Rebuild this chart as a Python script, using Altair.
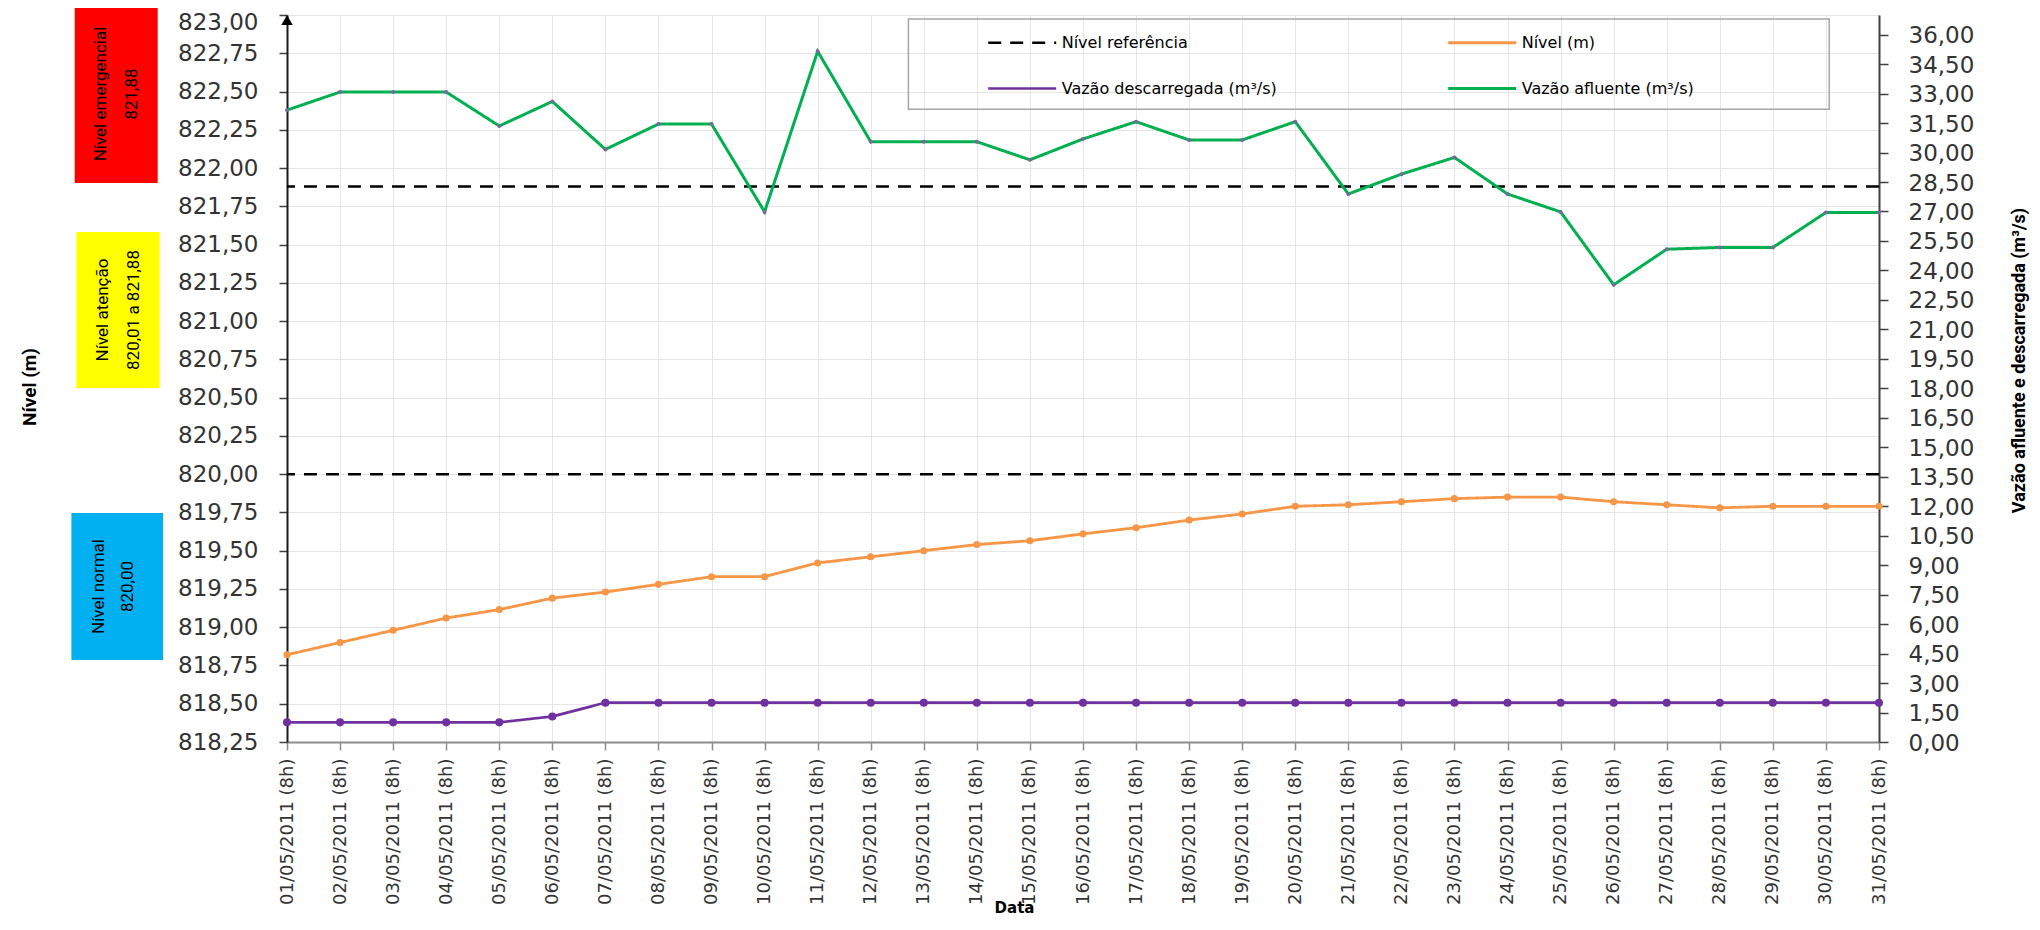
import altair as alt
import pandas as pd

# ---------------- data ----------------
datas = [
    "01/05/2011 (8h)", "02/05/2011 (8h)", "03/05/2011 (8h)", "04/05/2011 (8h)",
    "05/05/2011 (8h)", "06/05/2011 (8h)", "07/05/2011 (8h)", "08/05/2011 (8h)",
    "09/05/2011 (8h)", "10/05/2011 (8h)", "11/05/2011 (8h)", "12/05/2011 (8h)",
    "13/05/2011 (8h)", "14/05/2011 (8h)", "15/05/2011 (8h)", "16/05/2011 (8h)",
    "17/05/2011 (8h)", "18/05/2011 (8h)", "19/05/2011 (8h)", "20/05/2011 (8h)",
    "21/05/2011 (8h)", "22/05/2011 (8h)", "23/05/2011 (8h)", "24/05/2011 (8h)",
    "25/05/2011 (8h)", "26/05/2011 (8h)", "27/05/2011 (8h)", "28/05/2011 (8h)",
    "29/05/2011 (8h)", "30/05/2011 (8h)", "31/05/2011 (8h)",
]
nivel_m = [
    818.82, 818.90, 818.98, 819.06, 819.115, 819.19, 819.23, 819.28, 819.33, 819.33,
    819.42, 819.46, 819.50, 819.54, 819.565, 819.61, 819.65, 819.70, 819.74, 819.79,
    819.80, 819.82, 819.84, 819.85, 819.85, 819.82, 819.80, 819.78, 819.79, 819.79, 819.79,
]
vazao_descarregada = [
    1.0, 1.0, 1.0, 1.0, 1.0, 1.3, 2.0, 2.0, 2.0, 2.0, 2.0, 2.0, 2.0, 2.0, 2.0, 2.0,
    2.0, 2.0, 2.0, 2.0, 2.0, 2.0, 2.0, 2.0, 2.0, 2.0, 2.0, 2.0, 2.0, 2.0, 2.0,
]
vazao_afluente = [
    32.16, 33.08, 33.08, 33.08, 31.35, 32.6, 30.16, 31.45, 31.45, 26.98,
    35.15, 30.55, 30.55, 30.55, 29.63, 30.69, 31.57, 30.64, 30.64, 31.57,
    27.89, 28.90, 29.75, 27.89, 26.98, 23.27, 25.08, 25.17, 25.17, 26.95, 26.95,
]
nivel_referencia = [821.88, 820.00]
# legend order (column by column): referência, descarregada | nível, afluente
series = ["Nível referência", "Vazão descarregada (m³/s)", "Nível (m)", "Vazão afluente (m³/s)"]
ticks_nivel = [818.25, 818.50, 818.75, 819.00, 819.25, 819.50, 819.75, 820.00, 820.25, 820.50,
               820.75, 821.00, 821.25, 821.50, 821.75, 822.00, 822.25, 822.50, 822.75, 823.00]
ticks_vazao = [0.0, 1.5, 3.0, 4.5, 6.0, 7.5, 9.0, 10.5, 12.0, 13.5, 15.0, 16.5, 18.0, 19.5,
               21.0, 22.5, 24.0, 25.5, 27.0, 28.5, 30.0, 31.5, 33.0, 34.5, 36.0]
faixas = [
    ("Nível emergencial", "821,88"),
    ("Nível atenção", "820,01 a 821,88"),
    ("Nível normal", "820,00"),
]
titulo_nivel = "Nível (m)"
titulo_vazao = "Vazão afluente e descarregada (m³/s)"
titulo_data = "Data"

# ---------------- styles ----------------
cores = ["#000000", "#7030A0", "#F79646", "#00B050"]
tracos = [[13, 9], [1, 0], [1, 0], [1, 0]]
larguras = [2.5, 3, 3, 6.5]
NARROW = "Roboto"
WIDE = "DejaVu Sans"
GRID = "#E6E6E6"
fmt = "replace(format(datum.value, '.2f'), '.', ',')"

df_nivel = pd.DataFrame({"data": datas, "valor": nivel_m, "serie": "Nível (m)"})
df_ref = pd.DataFrame({"valor": nivel_referencia, "serie": "Nível referência"})
df_vazao = pd.DataFrame({
    "data": datas + datas,
    "vazao": vazao_descarregada + vazao_afluente,
    "serie": ["Vazão descarregada (m³/s)"] * len(datas) + ["Vazão afluente (m³/s)"] * len(datas),
})
one = pd.DataFrame({"k": [0]})

legend_def = alt.Legend(
    title=None, orient="none", legendX=699.7, legendY=-8, columns=2,
    symbolType="stroke", symbolSize=4624, labelFont=WIDE, labelFontSize=16,
    labelColor="#000000", labelOffset=4, rowPadding=2, columnPadding=164,
    padding=0, gridAlign="each", labelLimit=600,
)
color_enc = alt.Color("serie:N", scale=alt.Scale(domain=series, range=cores), legend=legend_def)
dash_enc = alt.StrokeDash("serie:N", scale=alt.Scale(domain=series, range=tracos), legend=legend_def)
width_enc = alt.StrokeWidth("serie:N", scale=alt.Scale(domain=series, range=larguras), legend=legend_def)

x_axis = alt.Axis(
    orient="bottom", labelAngle=270, labelFont=WIDE, labelFontSize=18, labelColor="#333333",
    labelPadding=8, tickSize=8, tickColor="#8C8C8C", tickWidth=1.5, domainColor="#8C8C8C",
    domainWidth=2, grid=True, gridColor=GRID, gridWidth=1, labelOverlap=False,
    title=titulo_data, titleFont=WIDE, titleFontSize=15, titleFontWeight="bold",
    titleColor="#000000", titleX=727, titleY=165, titleAlign="center", titleBaseline="middle",
)
x_enc = alt.X("data:N", sort=datas, scale=alt.Scale(type="point", padding=0), axis=x_axis)

y_left_scale = alt.Scale(domain=[818.25, 823.0], nice=False, zero=False)
y_left_axis = alt.Axis(
    orient="left", values=ticks_nivel, labelExpr=fmt, labelFont=WIDE, labelFontSize=23,
    labelColor="#333333", labelPadding=21, labelOverlap=False, labelFlush=False,
    labelOffset={"condition": {"test": "datum.value >= 822.99", "value": 7}, "value": 0},
    tickSize=8, tickColor="#404040", tickWidth=1.5, domainColor="#1A1A1A", domainWidth=2,
    grid=True, gridColor=GRID, gridWidth=1, title=None,
)
y_right_scale = alt.Scale(domain=[0, 37], nice=False, zero=True)
y_right_axis = alt.Axis(
    orient="right", values=ticks_vazao, labelExpr=fmt, labelFont=WIDE, labelFontSize=23,
    labelColor="#333333", labelPadding=20, labelOffset=1, labelOverlap=False, labelFlush=False,
    tickSize=9, tickColor="#404040", tickWidth=1.5, domainColor="#404040", domainWidth=2,
    grid=False,
    title=titulo_vazao, titleFont=NARROW, titleFontSize=18,
    titleFontWeight="bold", titleColor="#000000", titleAngle=270, titleX=140, titleY=345,
    titleAlign="center", titleBaseline="middle",
)
y_left = alt.Y("valor:Q", scale=y_left_scale, axis=y_left_axis)
y_right = alt.Y("vazao:Q", scale=y_right_scale, axis=y_right_axis)

# ---------------- left (nível) group ----------------
rules = alt.Chart(df_ref).mark_rule().encode(
    y=y_left, color=color_enc, strokeDash=dash_enc, strokeWidth=width_enc,
)
nivel_line = alt.Chart(df_nivel).mark_line().encode(
    x=x_enc, y=y_left, color=color_enc, strokeDash=dash_enc, strokeWidth=width_enc,
)
nivel_pts = alt.Chart(df_nivel).mark_circle(size=50, color="#F79646", opacity=1).encode(
    x=x_enc, y=y_left,
)
arrow = alt.Chart(one).mark_point(shape="triangle-up", filled=True, color="#000000",
                                  size=130, opacity=1).encode(
    x=alt.value(0), y=alt.value(5))

titulo_esq = alt.Chart(one).mark_text(
    angle=270, font=NARROW, fontSize=19, fontWeight="bold", align="center",
    baseline="middle", color="#000000").encode(
    x=alt.value(-257), y=alt.value(372), text=alt.value(titulo_nivel))

legend_box = alt.Chart(one).mark_rect(fillOpacity=0, stroke="#A6A6A6", strokeWidth=1.5).encode(
    x=alt.value(621.4), x2=alt.value(1542.2), y=alt.value(4), y2=alt.value(94.3))

box_pos = [
    # (x, x2, y, y2, text x1, text x2, text y)
    (-212.3, -129.3, -7, 168, -185.6, -154.8, 79),
    (-210.6, -127.3, 217, 373, -184.3, -153.3, 295),
    (-215.6, -124.0, 498, 645, -188.3, -158.8, 571.5),
]
box_cores = ["#FF0000", "#FFFF00", "#00B0F0"]
faixa_layers = []
for (bx, bx2, by, by2, tx1, tx2, ty), cor, (t1, t2) in zip(box_pos, box_cores, faixas):
    faixa_layers.append(alt.Chart(one).mark_rect(color=cor).encode(
        x=alt.value(bx), x2=alt.value(bx2), y=alt.value(by), y2=alt.value(by2)))
    for tx, txt in ((tx1, t1), (tx2, t2)):
        faixa_layers.append(alt.Chart(one).mark_text(
            angle=270, font=NARROW, fontSize=17, align="center", baseline="middle",
            color="#000000").encode(x=alt.value(tx), y=alt.value(ty), text=alt.value(txt)))

left = alt.layer(rules, nivel_line, nivel_pts, arrow, titulo_esq, legend_box, *faixa_layers)

# ---------------- right (vazão) group ----------------
vazao_lines = alt.Chart(df_vazao).mark_line().encode(
    x=x_enc, y=y_right, color=color_enc, strokeDash=dash_enc, strokeWidth=width_enc,
)
desc_pts = alt.Chart(df_vazao).transform_filter(
    alt.datum.serie == "Vazão descarregada (m³/s)").mark_circle(
    size=65, color="#7030A0", opacity=1).encode(x=x_enc, y=y_right)
aflu_pts = alt.Chart(df_vazao).transform_filter(
    alt.datum.serie == "Vazão afluente (m³/s)").mark_circle(
    size=16, color="#8064A2", opacity=1).encode(x=x_enc, y=y_right)

right = alt.layer(vazao_lines, desc_pts, aflu_pts)

chart = alt.layer(left, right).resolve_scale(y="independent").properties(
    width=1592, height=727,
    background="white",
    autosize=alt.AutoSizeParams(type="none"),
    padding={"left": 279, "top": 7, "right": 152, "bottom": 175},
).configure_view(stroke=None)

chart.save("out.html", embed_options={"renderer": "svg", "actions": False})
